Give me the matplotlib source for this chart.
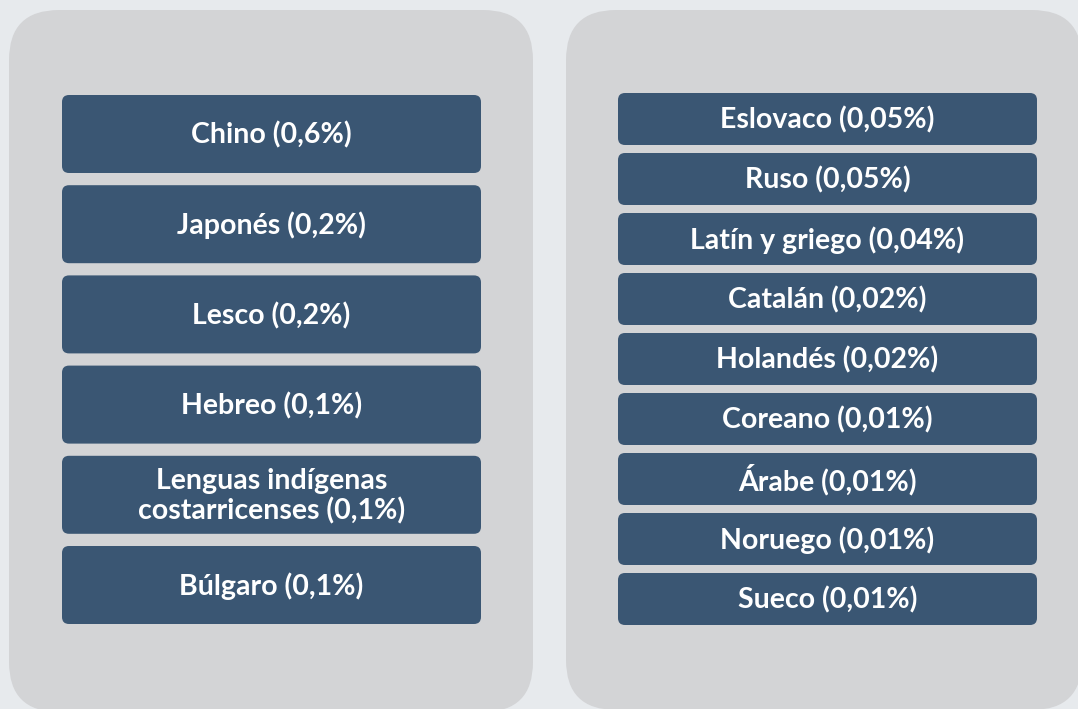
import matplotlib.pyplot as plt
from matplotlib.patches import FancyBboxPatch

# Languages and shares (%) shown in each panel
left_langs = ['Chino', 'Japonés', 'Lesco', 'Hebreo',
              'Lenguas indígenas\ncostarricenses', 'Búlgaro']
left_pct = ['0,6', '0,2', '0,2', '0,1', '0,1', '0,1']
right_langs = ['Eslovaco', 'Ruso', 'Latín y griego', 'Catalán', 'Holandés',
               'Coreano', 'Árabe', 'Noruego', 'Sueco']
right_pct = ['0,05', '0,05', '0,04', '0,02', '0,02',
             '0,01', '0,01', '0,01', '0,01']

BG = '#e7eaed'
PANEL = '#d3d4d6'
BOX = '#3a5673'

W, H = 1078, 709
fig = plt.figure(figsize=(W / 100, H / 100), dpi=100)
fig.patch.set_facecolor(BG)
ax = fig.add_axes([0, 0, 1, 1])
ax.set_xlim(0, W)
ax.set_ylim(H, 0)
ax.axis('off')


def panel(x0, x1, y0, y1):
    p = FancyBboxPatch((x0 + 50, y0 + 50), x1 - x0 - 100, y1 - y0 - 100,
                       boxstyle='round,pad=50', fc=PANEL, ec='none')
    ax.add_patch(p)


def boxes(langs, pcts, x0, x1, top, step, h):
    for i, (lang, pct) in enumerate(zip(langs, pcts)):
        y = top + i * step
        b = FancyBboxPatch((x0 + 7, y + 7), x1 - x0 - 14, h - 14,
                           boxstyle='round,pad=7', fc=BOX, ec='none')
        ax.add_patch(b)
        ax.text((x0 + x1) / 2, y + h / 2 + 1, f'{lang} ({pct}%)',
                ha='center', va='center', color='white', fontsize=20.5,
                fontweight='bold', family='Lato', linespacing=1.15)


panel(9, 533, 10, 712)
panel(566, 1082, 10, 710)

boxes(left_langs, left_pct, 62, 481, 95, 90.2, 78)
boxes(right_langs, right_pct, 618, 1037, 93, 60, 52)

fig.savefig('out.png', dpi=100, facecolor=BG)
